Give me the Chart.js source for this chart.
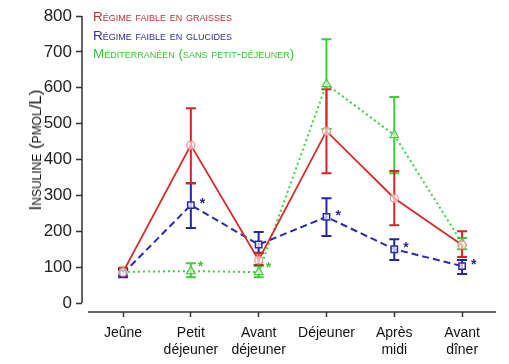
<!DOCTYPE html>
<html>
<head>
<meta charset="utf-8">
<script src="https://cdn.jsdelivr.net/npm/chart.js@4/dist/chart.umd.min.js"></script>
<style>
  html, body { margin: 0; padding: 0; background: #fff; }
  #wrap { position: relative; width: 509px; height: 364px; font-family: "Liberation Sans", Arial, sans-serif; }
  #legend { position: absolute; left: 93px; top: 8px; font-size: 13.5px; font-variant: small-caps; line-height: 18.5px; }
  #ytitle { position: absolute; left: 36px; top: 150px; transform: translate(-50%, -50%) rotate(-90deg);
            white-space: nowrap; font-size: 17px; font-variant: small-caps; color: #111; }
</style>
</head>
<body>
<div id="wrap">
  <canvas id="chart" width="509" height="364"></canvas>
  <div id="legend">
    <div style="color:#b83434">Régime faible en graisses</div>
    <div style="color:#30309c">Régime faible en glucides</div>
    <div style="color:#3cc43c">Méditerranéen (sans petit-déjeuner)</div>
  </div>
  <div id="ytitle">Insuline (pmol/L)</div>
</div>
<script>
const categories = [["Jeûne"], ["Petit", "déjeuner"], ["Avant", "déjeuner"], ["Déjeuner"], ["Après", "midi"], ["Avant", "dîner"]];
const yTicks = [0, 100, 200, 300, 400, 500, 600, 700, 800];

// régime faible en graisses
const fatValues = [86, 440, 120, 479, 292, 162];
const fatHigh = [98, 543, 139, 596, 368, 200];
const fatLow = [75, 334, 106, 362, 217, 128];

// régime faible en glucides
const carbValues = [82, 273, 163, 240, 150, 103];
const carbHigh = [92, 334, 198, 292, 178, 120];
const carbLow = [72, 209, 140, 187, 120, 81];
const carbStars = [false, true, false, true, true, true];

// méditerranéen
const medValues = [87, 89, 86, 610, 468, 167];
const medHigh = [95, 111, 103, 735, 574, 181];
const medLow = [79, 72, 72, 485, 362, 150];
const medStars = [false, true, true, false, false, false];

const toPoints = (vals) => vals.map((v, i) => ({ x: i, y: v }));

const errorSets = [
  { high: medHigh, low: medLow, color: "#3ccc3c" },
  { high: carbHigh, low: carbLow, color: "#2525a2" },
  { high: fatHigh, low: fatLow, color: "#d42424" },
];

const extras = {
  id: "extras",
  beforeDatasetsDraw(chart) {
    const { ctx, scales: { x, y } } = chart;
    ctx.save();
    ctx.lineWidth = 2;
    errorSets.forEach((s) => {
      ctx.strokeStyle = s.color;
      s.high.forEach((hi, i) => {
        const px = x.getPixelForValue(i);
        const top = y.getPixelForValue(hi);
        const bot = y.getPixelForValue(s.low[i]);
        ctx.beginPath();
        ctx.moveTo(px, top); ctx.lineTo(px, bot);
        ctx.moveTo(px - 5, top); ctx.lineTo(px + 5, top);
        ctx.moveTo(px - 5, bot); ctx.lineTo(px + 5, bot);
        ctx.stroke();
      });
    });
    ctx.restore();
  },
  afterDraw(chart) {
    const { ctx, scales: { x, y }, chartArea } = chart;
    ctx.save();
    ctx.strokeStyle = "#333";
    ctx.lineWidth = 1.5;
    ctx.beginPath();
    ctx.moveTo(chartArea.left, y.getPixelForValue(800));
    ctx.lineTo(chartArea.left, y.getPixelForValue(0));
    ctx.moveTo(chartArea.left + 6, chartArea.bottom);
    ctx.lineTo(chartArea.right, chartArea.bottom);
    ctx.stroke();

    ctx.font = "bold 14px 'Liberation Sans', Arial, sans-serif";
    ctx.textAlign = "left";
    ctx.textBaseline = "middle";
    ctx.fillStyle = "#2525a2";
    carbStars.forEach((on, i) => {
      if (!on) return;
      ctx.fillText("*", x.getPixelForValue(i) + 9, y.getPixelForValue(carbValues[i]) - 1);
    });
    ctx.fillStyle = "#3ccc3c";
    medStars.forEach((on, i) => {
      if (!on) return;
      ctx.fillText("*", x.getPixelForValue(i) + 7, y.getPixelForValue(medValues[i]) - 4);
    });
    ctx.restore();
  }
};

new Chart(document.getElementById("chart"), {
  type: "line",
  data: {
    datasets: [
      {
        label: "Régime faible en graisses",
        data: toPoints(fatValues),
        borderColor: "#d62a2a",
        borderWidth: 1.8,
        pointStyle: "circle",
        pointRadius: 4,
        pointBorderWidth: 1.2,
        pointBorderColor: "#ec9090",
        pointBackgroundColor: "rgba(255,255,255,0.6)",
      },
      {
        label: "Régime faible en glucides",
        data: toPoints(carbValues),
        borderColor: "#2b2ba8",
        borderWidth: 2,
        borderDash: [7, 4],
        pointStyle: "rect",
        pointRadius: 4.5,
        pointBorderWidth: 1.5,
        pointBorderColor: "#2b2ba8",
        pointBackgroundColor: "rgba(255,255,255,0.7)",
      },
      {
        label: "Méditerranéen (sans petit-déjeuner)",
        data: toPoints(medValues),
        borderColor: "#42d042",
        borderWidth: 2,
        borderDash: [2, 3],
        pointStyle: "triangle",
        pointRadius: 5,
        pointBorderWidth: 1.2,
        pointBorderColor: "#42d042",
        pointBackgroundColor: "rgba(255,255,255,0.6)",
      },
    ],
  },
  options: {
    responsive: false,
    animation: false,
    layout: { padding: { top: 16, right: 13, left: 0, bottom: 0 } },
    plugins: { legend: { display: false }, tooltip: { enabled: false } },
    scales: {
      x: {
        type: "linear",
        min: -0.605,
        max: 5.5,
        afterBuildTicks: (scale) => { scale.ticks = categories.map((c, i) => ({ value: i })); },
        afterFit: (scale) => { scale.height = 52; },
        border: { display: false },
        grid: { drawOnChartArea: false, drawTicks: true, tickLength: 5, tickColor: "#333", tickWidth: 1.5 },
        ticks: {
          padding: 8,
          color: "#111",
          maxRotation: 0,
          autoSkip: false,
          font: { family: "'Liberation Sans', Arial, sans-serif", size: 14 },
          callback: (v) => categories[v],
        },
      },
      y: {
        min: -25,
        max: 800,
        afterBuildTicks: (scale) => { scale.ticks = yTicks.map((v) => ({ value: v })); },
        afterFit: (scale) => { scale.width = 82; },
        border: { display: false },
        grid: { drawOnChartArea: false, drawTicks: true, tickLength: 6, tickColor: "#333", tickWidth: 1.5 },
        ticks: {
          padding: 4,
          color: "#222",
          font: { family: "'Liberation Sans', Arial, sans-serif", size: 17 },
        },
      },
    },
  },
  plugins: [extras],
});
</script>
</body>
</html>
